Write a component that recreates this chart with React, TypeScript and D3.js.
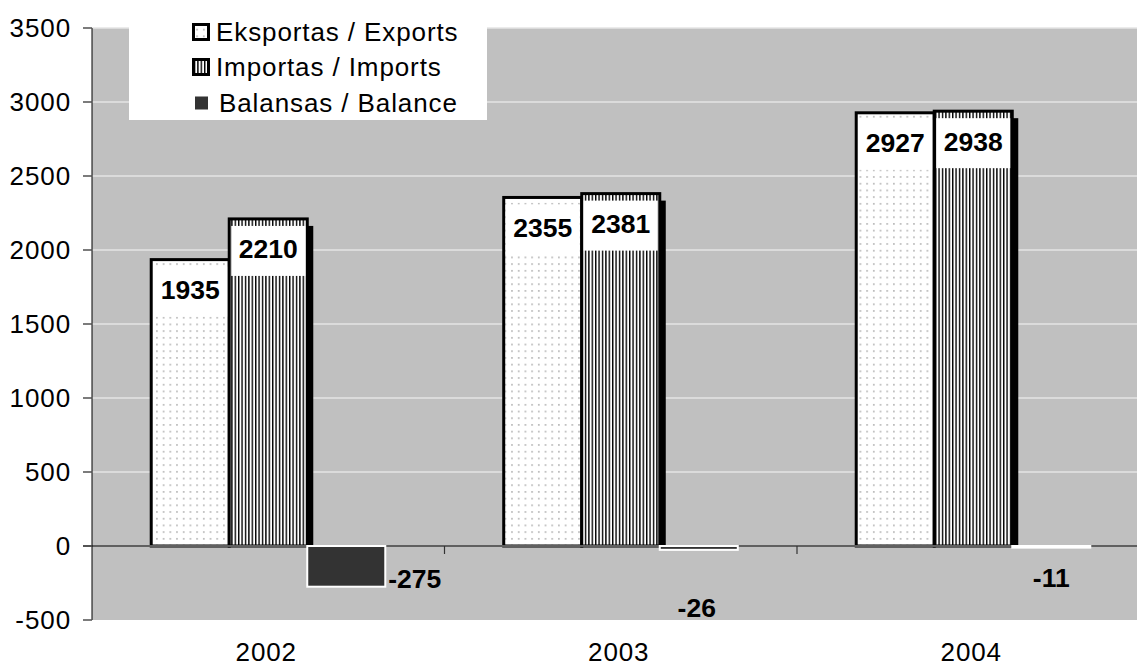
import React, { useEffect, useRef } from 'react';
import * as d3 from 'd3';

const years = ['2002', '2003', '2004'];
const exportsValues = [1935, 2355, 2927];
const importsValues = [2210, 2381, 2938];
const balanceValues = [-275, -26, -11];
const yTicks = [-500, 0, 500, 1000, 1500, 2000, 2500, 3000, 3500];
const legendLabels = ['Eksportas / Exports', 'Importas / Imports', 'Balansas / Balance'];

// hand placed balance labels, like in the original sheet
const balanceLabelPos = [
  { anchor: 'start', dx: 3, dy: 32 },
  { anchor: 'middle', dx: -2, dy: 61 },
  { anchor: 'middle', dx: 0, dy: 31 },
];

const FONT = 'Arial, "Liberation Sans", sans-serif';

const App: React.FC = () => {
  const svgRef = useRef<SVGSVGElement>(null);

  useEffect(() => {
    if (!svgRef.current) return;
    const width = 1137;
    const height = 671;
    const left = 92;
    const top = 28;
    const bottom = 620;
    const step = 352.5;

    const svg = d3.select(svgRef.current);
    svg.selectAll('*').remove();
    svg.attr('width', width).attr('height', height);

    const plainText = (x: number, yy: number, anchor: string, t: string) => {
      svg.append('text')
        .attr('x', x)
        .attr('y', yy)
        .attr('dy', '0.36em')
        .attr('text-anchor', anchor)
        .attr('font-family', FONT)
        .attr('font-size', 26)
        .attr('letter-spacing', 0.9)
        .attr('fill', '#000')
        .text(t);
    };

    const defs = svg.append('defs');
    const dots = defs.append('pattern')
      .attr('id', 'dots')
      .attr('patternUnits', 'userSpaceOnUse')
      .attr('width', 6.7)
      .attr('height', 6.7);
    dots.append('rect').attr('width', 6.7).attr('height', 6.7).attr('fill', '#fff');
    dots.append('rect').attr('x', 2).attr('y', 2).attr('width', 1.6).attr('height', 1.6).attr('fill', '#b0b0b0');

    const stripes = defs.append('pattern')
      .attr('id', 'stripes')
      .attr('patternUnits', 'userSpaceOnUse')
      .attr('width', 3.4)
      .attr('height', 10);
    stripes.append('rect').attr('width', 3.4).attr('height', 10).attr('fill', '#fff');
    stripes.append('rect').attr('x', 0).attr('width', 1.4).attr('height', 10).attr('fill', '#000');

    const x0 = d3.scaleBand<string>()
      .domain(years)
      .range([left, left + step * years.length])
      .paddingInner(0.336)
      .paddingOuter(0.168);

    const series = ['exp', 'imp', 'bal'];
    const x1 = d3.scaleBand<string>()
      .domain(series)
      .range([0, x0.bandwidth()]);

    const y = d3.scaleLinear()
      .domain([-500, 3500])
      .range([bottom, top]);

    // plot area
    svg.append('rect')
      .attr('x', left)
      .attr('y', top)
      .attr('width', width - left)
      .attr('height', bottom - top)
      .attr('fill', '#c0c0c0');

    // gridlines
    yTicks.filter(t => t !== 0 && t !== -500).forEach(t => {
      svg.append('line')
        .attr('x1', left).attr('x2', width)
        .attr('y1', y(t)).attr('y2', y(t))
        .attr('stroke', '#e4e4e4')
        .attr('stroke-width', 1.5);
    });

    // legend box
    svg.append('rect')
      .attr('x', 129).attr('y', 10)
      .attr('width', 358).attr('height', 110)
      .attr('fill', '#fff');

    const legendY = [32, 67, 103];
    svg.append('rect')
      .attr('x', 193.5).attr('y', legendY[0] - 7.5).attr('width', 15).attr('height', 15)
      .attr('fill', 'url(#dots)').attr('stroke', '#000').attr('stroke-width', 3);
    svg.append('rect')
      .attr('x', 193.5).attr('y', legendY[1] - 7.5).attr('width', 15).attr('height', 15)
      .attr('fill', 'url(#stripes)').attr('stroke', '#000').attr('stroke-width', 3);
    svg.append('rect')
      .attr('x', 195).attr('y', legendY[2] - 6.5).attr('width', 13).attr('height', 13)
      .attr('fill', '#333');
    legendLabels.forEach((l, i) => {
      plainText(i === 2 ? 219 : 216, legendY[i], 'start', l);
    });

    // shadows
    years.forEach((yr, i) => {
      [['exp', exportsValues[i]], ['imp', importsValues[i]]].forEach(([k, v]) => {
        const bx = x0(yr)! + x1(k as string)!;
        svg.append('rect')
          .attr('x', bx + 6)
          .attr('y', y(v as number) + 7)
          .attr('width', x1.bandwidth())
          .attr('height', y(0) - y(v as number) - 7)
          .attr('fill', '#000');
      });
    });

    // exports & imports bars
    years.forEach((yr, i) => {
      [['exp', exportsValues[i], 'url(#dots)'], ['imp', importsValues[i], 'url(#stripes)']].forEach(([k, v, fill]) => {
        const bx = x0(yr)! + x1(k as string)!;
        const by = y(v as number);
        const bw = x1.bandwidth();
        svg.append('rect')
          .attr('x', bx)
          .attr('y', by)
          .attr('width', bw)
          .attr('height', y(0) - by)
          .attr('fill', fill as string)
          .attr('stroke', '#000')
          .attr('stroke-width', 3);
        svg.append('rect')
          .attr('x', bx + 2)
          .attr('y', by + 7)
          .attr('width', bw - 4)
          .attr('height', 50)
          .attr('fill', '#fff');
        svg.append('text')
          .attr('x', bx + bw / 2)
          .attr('y', by + 30)
          .attr('dy', '0.36em')
          .attr('text-anchor', 'middle')
          .attr('font-family', FONT)
          .attr('font-weight', 'bold')
          .attr('font-size', 26.5)
          .attr('fill', '#000')
          .text(String(v));
      });
    });

    // zero line
    svg.append('line')
      .attr('x1', left - 9).attr('x2', width)
      .attr('y1', y(0)).attr('y2', y(0))
      .attr('stroke', '#606060')
      .attr('stroke-width', 2);

    // category ticks
    years.forEach((yr, i) => {
      const bx = left + step * (i + 1);
      svg.append('line')
        .attr('x1', bx).attr('x2', bx)
        .attr('y1', y(0)).attr('y2', y(0) + 8)
        .attr('stroke', '#333')
        .attr('stroke-width', 1.2);
    });

    // balance bars
    years.forEach((yr, i) => {
      const v = balanceValues[i];
      const bx = x0(yr)! + x1('bal')!;
      const bw = x1.bandwidth();
      svg.append('rect')
        .attr('x', bx)
        .attr('y', y(0))
        .attr('width', bw)
        .attr('height', y(v) - y(0))
        .attr('fill', '#333')
        .attr('stroke', '#fff')
        .attr('stroke-width', 2);
      const p = balanceLabelPos[i];
      const lx = p.anchor === 'start' ? bx + bw + p.dx : bx + bw / 2 + p.dx;
      svg.append('text')
        .attr('x', lx)
        .attr('y', y(0) + p.dy)
        .attr('dy', '0.36em')
        .attr('text-anchor', p.anchor)
        .attr('font-family', FONT)
        .attr('font-weight', 'bold')
        .attr('font-size', 26.5)
        .attr('fill', '#000')
        .text(String(v));
    });

    // y axis
    svg.append('line')
      .attr('x1', left).attr('x2', left)
      .attr('y1', top).attr('y2', bottom)
      .attr('stroke', '#000')
      .attr('stroke-width', 1);
    yTicks.forEach(t => {
      svg.append('line')
        .attr('x1', left - 9).attr('x2', left)
        .attr('y1', y(t)).attr('y2', y(t))
        .attr('stroke', '#505050')
        .attr('stroke-width', 1.5);
      plainText(71, y(t), 'end', String(t));
    });

    // x labels
    years.forEach(yr => {
      plainText(x0(yr)! + x0.bandwidth() / 2 - 2, 652, 'middle', yr);
    });
  }, []);

  return (
    <div style={{ position: 'absolute', left: 0, top: 0 }}>
      <svg ref={svgRef} style={{ display: 'block' }}></svg>
    </div>
  );
};

export default App;
